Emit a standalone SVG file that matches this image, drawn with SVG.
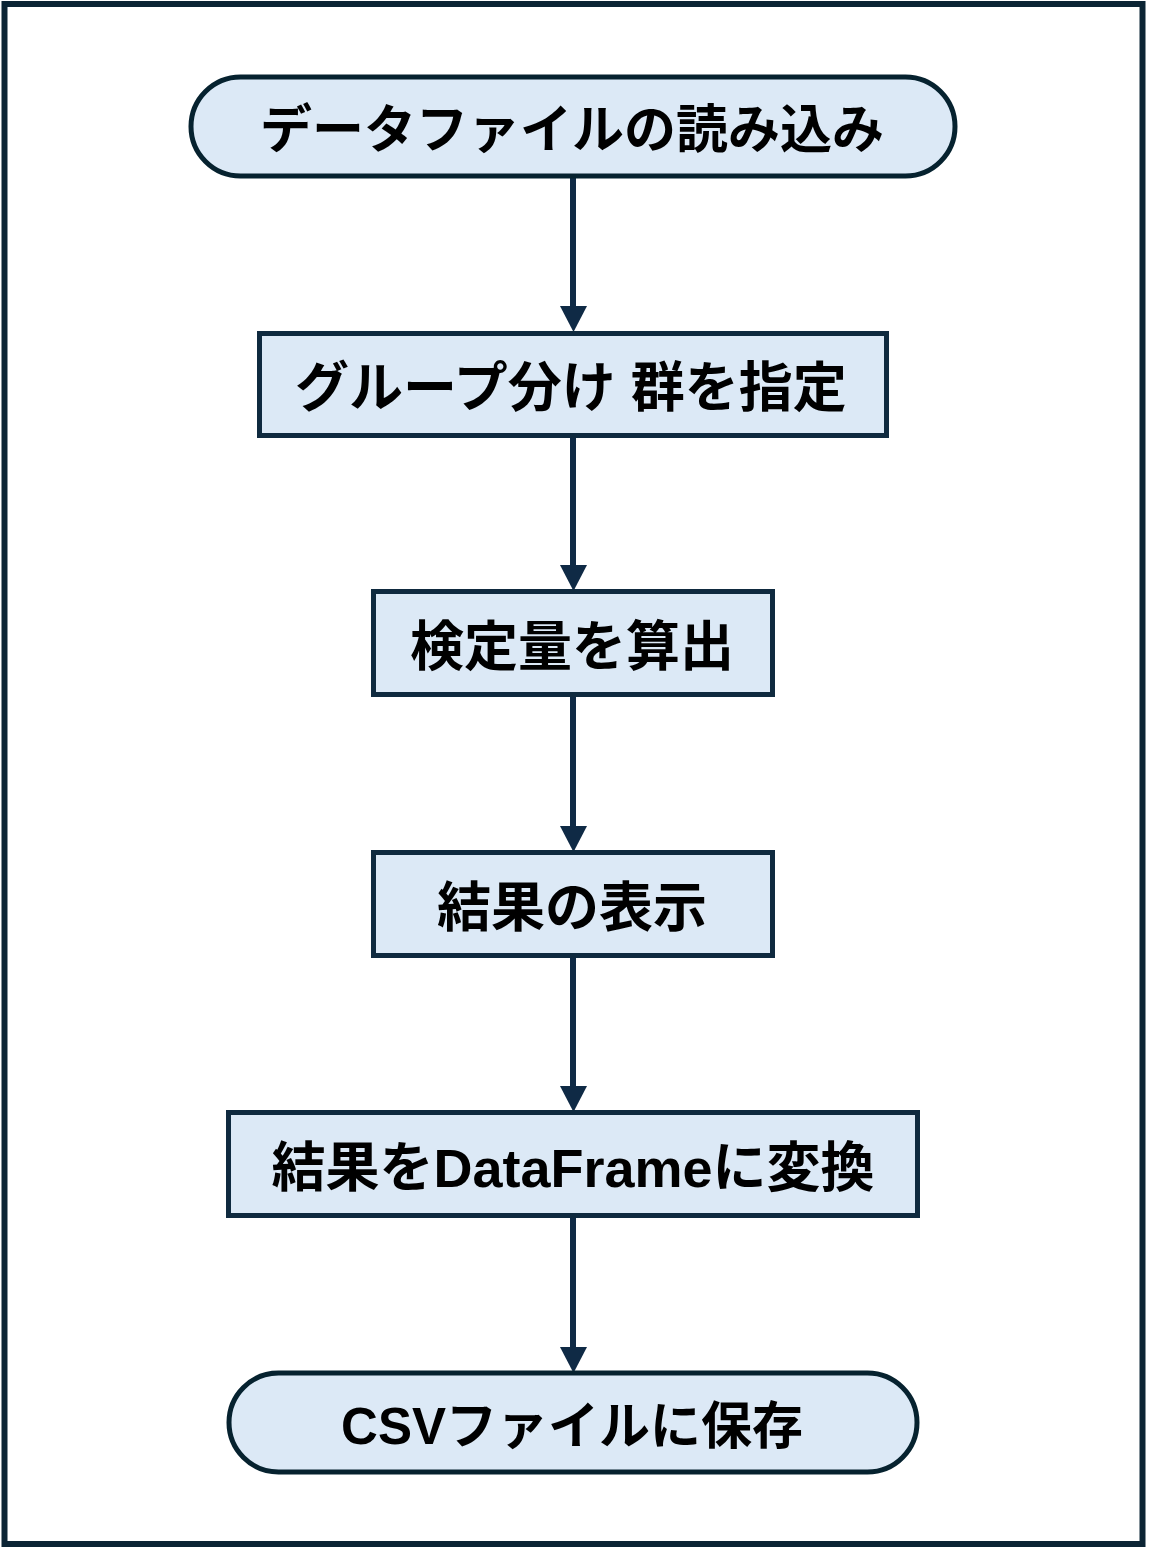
<svg xmlns="http://www.w3.org/2000/svg" width="1150" height="1549" viewBox="0 0 1150 1549">
<defs>
<style>
.frame{fill:#ffffff;stroke:#0b2434;stroke-width:6}
.node{fill:#dce9f6;stroke:#0f2a3f;stroke-width:5}
.term{fill:#dce9f6;stroke:#06222f;stroke-width:5}
.lbl{font-family:"Liberation Sans","Noto Sans CJK JP",sans-serif;font-weight:bold;font-size:54px;fill:#000;text-anchor:middle;dominant-baseline:central}
.conn{stroke:#0f2a45;stroke-width:6;fill:none}
.head{fill:#0f2a45}
</style>
</defs>
<rect class="frame" x="4.5" y="4" width="1138" height="1540"/>
<g id="connectors">
<line class="conn" x1="573" y1="177" x2="573" y2="308"/>
<path class="head" d="M560,306 L587,306 L573.5,332 Z"/>
<line class="conn" x1="573" y1="436" x2="573" y2="567"/>
<path class="head" d="M560,565 L587,565 L573.5,591 Z"/>
<line class="conn" x1="573" y1="695" x2="573" y2="828"/>
<path class="head" d="M560,826 L587,826 L573.5,852 Z"/>
<line class="conn" x1="573" y1="956" x2="573" y2="1088"/>
<path class="head" d="M560,1086 L587,1086 L573.5,1112 Z"/>
<line class="conn" x1="573" y1="1216" x2="573" y2="1349"/>
<path class="head" d="M560,1347 L587,1347 L573.5,1373 Z"/>
</g>
<g id="n1">
<rect class="term" x="191" y="77" width="764" height="99" rx="49.5"/>
<text class="lbl" x="572" y="130" style="font-size:52px">データファイルの読み込み</text>
</g>
<g id="n2">
<rect class="node" x="259.5" y="333.5" width="627" height="102"/>
<text class="lbl" x="571" y="388">グループ分け 群を指定</text>
</g>
<g id="n3">
<rect class="node" x="373.5" y="591.5" width="399" height="103"/>
<text class="lbl" x="572" y="647">検定量を算出</text>
</g>
<g id="n4">
<rect class="node" x="373.5" y="852.5" width="399" height="103"/>
<text class="lbl" x="572" y="908">結果の表示</text>
</g>
<g id="n5">
<rect class="node" x="228.5" y="1112.5" width="689" height="103"/>
<text class="lbl" x="573" y="1168">結果をDataFrameに変換</text>
</g>
<g id="n6">
<rect class="term" x="229" y="1373" width="688" height="99" rx="49.5"/>
<text class="lbl" x="572" y="1426" style="font-size:51px">CSVファイルに保存</text>
</g>
</svg>
